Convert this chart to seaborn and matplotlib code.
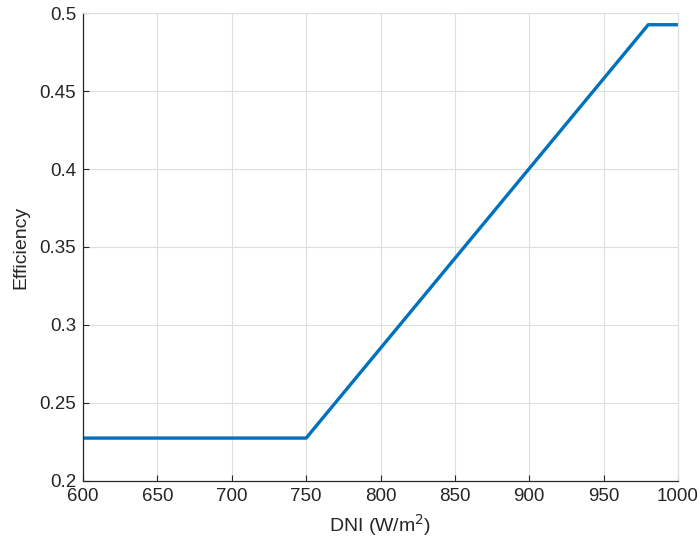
import matplotlib
matplotlib.use("Agg")
import matplotlib.pyplot as plt
import seaborn as sns
import pandas as pd

# DNI breakpoints (W/m^2) and corresponding efficiency
dni = [600, 750, 980, 1000]
efficiency = [0.2275, 0.2275, 0.4925, 0.4925]

xticks = [600, 650, 700, 750, 800, 850, 900, 950, 1000]
yticks = [0.2, 0.25, 0.3, 0.35, 0.4, 0.45, 0.5]
ytick_labels = ["0.2", "0.25", "0.3", "0.35", "0.4", "0.45", "0.5"]

sns.set_theme(style="white")
plt.rcParams["font.family"] = ["Liberation Sans", "DejaVu Sans"]

df = pd.DataFrame({"DNI": dni, "Efficiency": efficiency})

fig = plt.figure(figsize=(7.0, 5.47), dpi=100)
ax = fig.add_axes([0.1186, 0.1207, 0.85, 0.8555])

sns.lineplot(data=df, x="DNI", y="Efficiency", ax=ax, color="#0072BD",
             linewidth=2.4, sort=False)

ax.set_xlim(600, 1000)
ax.set_ylim(0.2, 0.5)
ax.set_xticks(xticks)
ax.set_xticklabels([str(t) for t in xticks])
ax.set_yticks(yticks)
ax.set_yticklabels(ytick_labels)

ax.grid(True, color="#dedede", linewidth=0.8)
ax.set_axisbelow(True)
for side in ("left", "bottom"):
    ax.spines[side].set_color("#262626")
    ax.spines[side].set_linewidth(0.9)
for side in ("top", "right"):
    ax.spines[side].set_color("#dedede")
    ax.spines[side].set_linewidth(0.8)

ax.tick_params(direction="in", length=4, width=0.8, colors="#262626",
               labelsize=13.5, top=False, right=False, bottom=True, left=True,
               pad=5)
for lbl in ax.get_xticklabels() + ax.get_yticklabels():
    lbl.set_color("#262626")

ax.set_xlabel("DNI (W/m$^2$)", fontsize=14, color="#262626", labelpad=5)
ax.set_ylabel("Efficiency", fontsize=14, color="#262626", labelpad=7)

fig.savefig("out.png", dpi=100, facecolor="white")
